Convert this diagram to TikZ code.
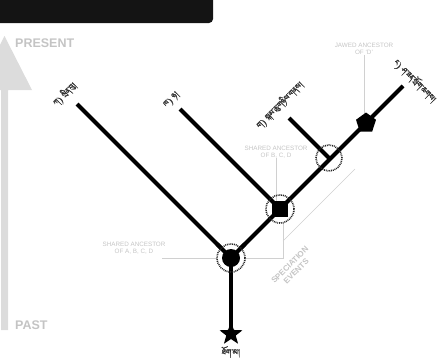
\documentclass[tikz,border=0pt]{standalone}
\usepackage{fontspec}
\setmainfont{Liberation Sans}
\usetikzlibrary{shapes.geometric}
\IfFontExistsTF{Jomolhari}{\newfontfamily\tib[Script=Tibetan,FakeBold=1.6]{Jomolhari}}{%
 \IfFontExistsTF{Tibetan Machine Uni}{\newfontfamily\tib[Script=Tibetan,FakeBold=1.6]{Tibetan Machine Uni}}{%
  \IfFontExistsTF{Noto Serif Tibetan}{\newfontfamily\tib[Script=Tibetan,FakeBold=1.6]{Noto Serif Tibetan}}{%
   \newcommand\tib{}}}}
\definecolor{arrowgray}{HTML}{DCDCDC}
\definecolor{notegray}{HTML}{C4C4C4}
\definecolor{guidegray}{HTML}{D0D0D0}
\begin{document}
\begin{tikzpicture}[x=1pt,y=-1pt,
 branch/.style={line width=4pt, black},
 guide/.style={line width=0.6pt, guidegray},
 ring/.style={circle, draw=black!85, line width=1.6pt, dash pattern=on 0.9pt off 0.9pt, inner sep=0pt},
 note/.style={text=notegray, font=\fontsize{6.3}{7}\selectfont, align=center, inner sep=0pt},
 bignote/.style={text=notegray, font=\bfseries\fontsize{12.5}{13}\selectfont, inner sep=0pt},
 tiblab/.style={font=\tib\fontsize{9.5}{10}\selectfont, inner sep=0pt, text=black!80}]
\useasboundingbox (0,0) rectangle (443,360);
% banner
\fill[black!92, rounded corners=4pt] (-6,-6) -- (213,-6) -- (213,23) -- (-6,23) -- cycle;
% time arrow
\fill[arrowgray] (4.5,36) -- (32,90) -- (8,90) -- (8,330) -- (1,330) -- (1,90) -- (-23,90) -- cycle;
\node[bignote, anchor=west] (present) at (15,43) {PRESENT};
\node[bignote, anchor=west] (past) at (15,325) {PAST};
% positions
\coordinate (p0) at (231,334);
\coordinate (p1) at (231,258);
\coordinate (p2) at (280,209);
\coordinate (n3) at (329,158);
\coordinate (p4) at (366,123);
\coordinate (A) at (77,104);
\coordinate (B) at (180,109);
\coordinate (C) at (289,118);
\coordinate (D) at (403,86);
% guides
\node[note] (l1) at (134,248) {SHARED ANCESTOR\\OF A, B, C, D};
\node[note] (l2) at (276,152) {SHARED ANCESTOR\\OF B, C, D};
\node[note] (l4) at (364,49) {JAWED ANCESTOR\\OF `D'};
\coordinate (g1) at (162,258);
\coordinate (b1) at (283,258);
\coordinate (b2) at (283,223);
\coordinate (b3) at (283,241);
\coordinate (b4) at (355,169);
\draw[guide] (g1) -- (p1);
\draw[guide] (p1) -- (b1) -- (b2);
\draw[guide] (b3) -- (b4);
\draw[guide] (l2.south) -- (l2.south |- p2);
\draw[guide] (l4.south) -- (l4.south |- p4);
\node[note, font=\bfseries\fontsize{8}{9}\selectfont, rotate=45] (spec) at (293,268) {SPECIATION\\EVENTS};
% branches
\draw[branch] (p0) -- (p1);
\draw[branch] (p1) -- (A);
\draw[branch] (p1) -- (D);
\draw[branch] (p2) -- (B);
\draw[branch] (n3) -- (C);
% nodes
\fill[white] (p1) circle (14pt);
\draw[branch] (p1) -- (p0);
\draw[branch] (p1) -- ++(-14,-14);
\draw[branch] (p1) -- ++(14,-14);
\node[star, star points=5, star point ratio=2.4, fill=black, minimum size=24pt, inner sep=0pt] (root) at (p0) {};
\node[circle, fill=black, minimum size=18pt, inner sep=0pt] (n1) at (p1) {};
\node[fill=black, minimum size=16pt, inner sep=0pt] (n2) at (p2) {};
\node[regular polygon, regular polygon sides=5, fill=black, minimum size=21pt, inner sep=0pt] (n4) at (p4) {};
\node[ring, minimum size=28pt] (r1) at (n1) {};
\node[ring, minimum size=28pt] (r2) at (n2) {};
\node[ring, minimum size=26pt] (r3) at (n3) {};
% labels
\node[tiblab, rotate=45] (tA) at (65,94) {ཀ)~སྲིན་བུ།};
\node[tiblab, rotate=45] (tB) at (172,100) {ཁ)~ཉ།};
\node[tiblab, rotate=45] (tC) at (280,105) {ག)~སྐམ་ཆུ་གཉིས་གནས།};
\node[tiblab, rotate=-45] (tD) at (415,81) {ང)~ཤ་ཟན་སྲོག་ཆགས།};
\node[tiblab] (tR) at (231,352) {ཐོག་མ།};
\end{tikzpicture}
\end{document}
